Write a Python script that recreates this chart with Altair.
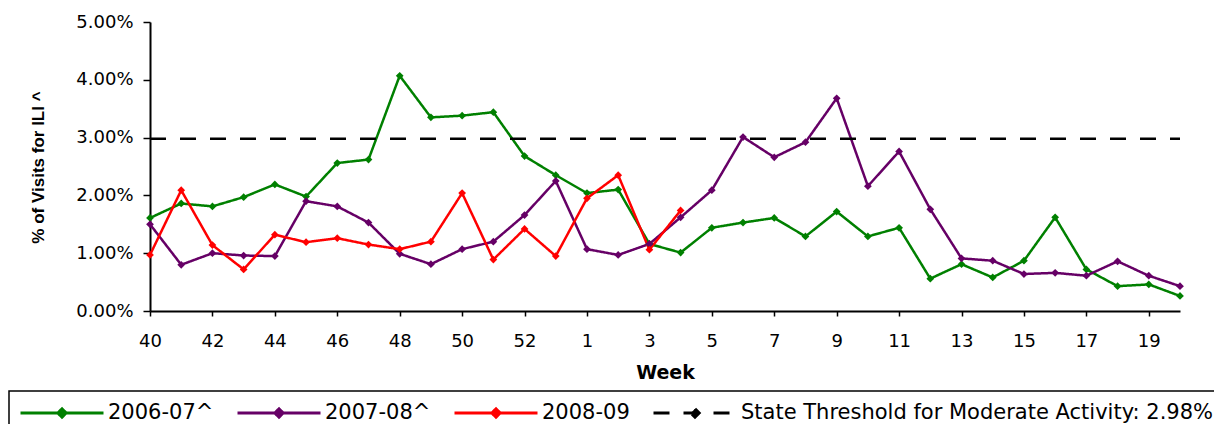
import json
import altair as alt
import pandas as pd

# ---- data ----
weeks = ["40", "41", "42", "43", "44", "45", "46", "47", "48", "49", "50", "51", "52", "53",
         "1", "2", "3", "4", "5", "6", "7", "8", "9", "10", "11", "12", "13", "14", "15",
         "16", "17", "18", "19", "20"]

series_names = ["2006-07^", "2007-08^", "2008-09"]
threshold_name = "State Threshold for Moderate Activity: 2.98%"
threshold_value = 2.98

s_2006_07 = [1.61, 1.86, 1.81, 1.97, 2.19, 1.98, 2.56, 2.62, 4.07, 3.35, 3.38, 3.44, 2.68, 2.35,
             2.04, 2.10, 1.16, 1.01, 1.44, 1.53, 1.61, 1.29, 1.72, 1.29, 1.44, 0.56, 0.81, 0.58,
             0.87, 1.62, 0.72, 0.43, 0.46, 0.26]
s_2007_08 = [1.50, 0.80, 1.00, 0.96, 0.95, 1.90, 1.81, 1.53, 0.99, 0.81, 1.07, 1.20, 1.66, 2.25,
             1.07, 0.97, 1.16, 1.62, 2.09, 3.01, 2.66, 2.92, 3.68, 2.16, 2.76, 1.76, 0.91, 0.87,
             0.64, 0.66, 0.61, 0.86, 0.61, 0.43]
s_2008_09 = [0.97, 2.09, 1.14, 0.72, 1.32, 1.19, 1.26, 1.15, 1.07, 1.20, 2.04, 0.89, 1.42, 0.95,
             1.95, 2.35, 1.06, 1.74]

colors = ["#008000", "#660066", "#FF0000", "#000000"]

# ---- build table ----
rows = []
for name, vals in zip(series_names, [s_2006_07, s_2007_08, s_2008_09]):
    for i, v in enumerate(vals):
        rows.append({"idx": i, "week": weeks[i], "value": v, "series": name})
df_series = pd.DataFrame(rows)
df_thr = pd.DataFrame([
    {"idx": 0, "week": weeks[0], "value": threshold_value, "series": threshold_name},
    {"idx": len(weeks) - 1, "week": weeks[-1], "value": threshold_value, "series": threshold_name},
])
df_lines = pd.concat([df_series, df_thr], ignore_index=True)

domain = series_names + [threshold_name]
dashes = [[1, 0], [1, 0], [1, 0], [16, 14]]

label_expr = "datum.value % 2 == 0 ? " + json.dumps(weeks) + "[datum.value] : ''"

x_enc = alt.X(
    "idx:Q",
    scale=alt.Scale(domain=[0, len(weeks) - 1], nice=False, zero=False),
    axis=alt.Axis(
        values=list(range(len(weeks))), labelExpr=label_expr, title="Week",
        titleFont="DejaVu Sans", titleFontWeight="bold", titleFontSize=19, titleColor="black",
        titleX=515, titleY=67, titleAlign="center", titleBaseline="alphabetic",
        tickSize=5, tickWidth=1.5, tickColor="black", labelPadding=16,
        labelFont="DejaVu Sans", labelFontSize=18, labelColor="black",
        labelOverlap=False, labelFlush=False, domainColor="black", domainWidth=2, grid=False,
    ),
)
y_enc = alt.Y(
    "value:Q",
    scale=alt.Scale(domain=[0, 5], nice=False),
    axis=alt.Axis(
        values=[0, 1, 2, 3, 4, 5], labelExpr="format(datum.value, '.2f') + '%'",
        title="% of Visits for ILI ^", titleFont="Liberation Sans", titleFontWeight="bold",
        titleFontSize=17, titleColor="black", titleX=-107, titleY=145, titleAngle=270,
        titleAlign="center", titleBaseline="alphabetic",
        tickSize=7, tickWidth=1.5, tickColor="black", labelPadding=10,
        labelFont="DejaVu Sans", labelFontSize=18, labelColor="black",
        domainColor="black", domainWidth=2, grid=False,
    ),
)

legend = alt.Legend(
    title=None, orient="none", legendX=-141, legendY=369, direction="horizontal", columns=4,
    symbolType="M-1,0L1,0M0,-0.1L0.1,0L0,0.1L-0.1,0Z", symbolSize=6889, symbolStrokeWidth=3,
    clipHeight=24, labelFont="DejaVu Sans", labelFontSize=21, labelColor="black",
    labelOffset=3, labelLimit=800, columnPadding=22, padding=10,
    strokeColor="black", fillColor="white", cornerRadius=0,
)

color_enc = alt.Color("series:N", scale=alt.Scale(domain=domain, range=colors), legend=legend)
dash_enc = alt.StrokeDash("series:N", scale=alt.Scale(domain=domain, range=dashes), legend=legend)

lines = alt.Chart(df_lines).mark_line(strokeWidth=2.5).encode(
    x=x_enc, y=y_enc, color=color_enc, strokeDash=dash_enc
)
points = alt.Chart(df_series).mark_point(shape="diamond", filled=True, size=60, opacity=1).encode(
    x=alt.X("idx:Q"), y=alt.Y("value:Q"), color=color_enc
)

chart = (
    alt.layer(lines, points)
    .properties(
        width=1030, height=289,
        autosize=alt.AutoSizeParams(type="none"),
        padding={"left": 142, "top": 14, "right": 34, "bottom": 113},
        background="white",
    )
    .configure_view(stroke=None)
    .configure_legend(strokeWidth=1.5)
)

chart.save("out.html", embed_options={"renderer": "svg", "actions": False})
